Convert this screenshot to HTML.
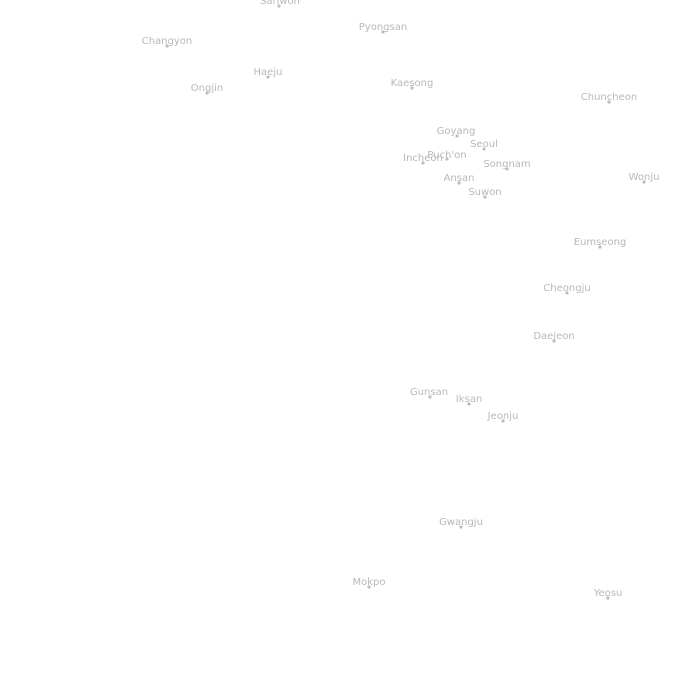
<!DOCTYPE html>
<html><head><meta charset="utf-8"><style>
html,body{margin:0;padding:0;background:#fff;}
svg{display:block;}
text{font-family:"DejaVu Sans","Liberation Sans",sans-serif;font-size:10px;fill:#b8b8b8;text-anchor:middle;}
circle{fill:#bdbdbd;}
</style></head><body>
<svg width="688" height="688" viewBox="0 0 688 688">
<g>
<circle cx="279" cy="6" r="1.6"/><text x="280" y="4">Sariwon</text>
<circle cx="383" cy="32" r="1.6"/><text x="383" y="30">Pyongsan</text>
<circle cx="167" cy="46" r="1.6"/><text x="167" y="44">Changyon</text>
<circle cx="268" cy="77" r="1.6"/><text x="268" y="75">Haeju</text>
<circle cx="207" cy="93" r="1.6"/><text x="207" y="91">Ongjin</text>
<circle cx="412" cy="88" r="1.6"/><text x="412" y="86">Kaesong</text>
<circle cx="609" cy="102" r="1.6"/><text x="609" y="100">Chuncheon</text>
<circle cx="457" cy="136" r="1.6"/><text x="456" y="134">Goyang</text>
<circle cx="484" cy="149" r="1.6"/><text x="484" y="147">Seoul</text>
<circle cx="423" cy="163" r="1.6"/><text x="423" y="161">Incheon</text>
<circle cx="447" cy="159" r="1.6"/><text x="447" y="158">Puch'on</text>
<circle cx="507" cy="169" r="1.6"/><text x="507" y="167">Songnam</text>
<circle cx="459" cy="183" r="1.6"/><text x="459" y="181">Ansan</text>
<circle cx="485" cy="197" r="1.6"/><text x="485" y="195">Suwon</text>
<circle cx="644" cy="182" r="1.6"/><text x="644" y="180">Wonju</text>
<circle cx="600" cy="247" r="1.6"/><text x="600" y="245">Eumseong</text>
<circle cx="567" cy="293" r="1.6"/><text x="567" y="291">Cheongju</text>
<circle cx="554" cy="341" r="1.6"/><text x="554" y="339">Daejeon</text>
<circle cx="430" cy="397" r="1.6"/><text x="429" y="395">Gunsan</text>
<circle cx="469" cy="404" r="1.6"/><text x="469" y="402">Iksan</text>
<circle cx="503" cy="421" r="1.6"/><text x="503" y="419">Jeonju</text>
<circle cx="461" cy="527" r="1.6"/><text x="461" y="525">Gwangju</text>
<circle cx="369" cy="587" r="1.6"/><text x="369" y="585">Mokpo</text>
<circle cx="608" cy="598" r="1.6"/><text x="608" y="596">Yeosu</text>
</g>
</svg>
</body></html>
